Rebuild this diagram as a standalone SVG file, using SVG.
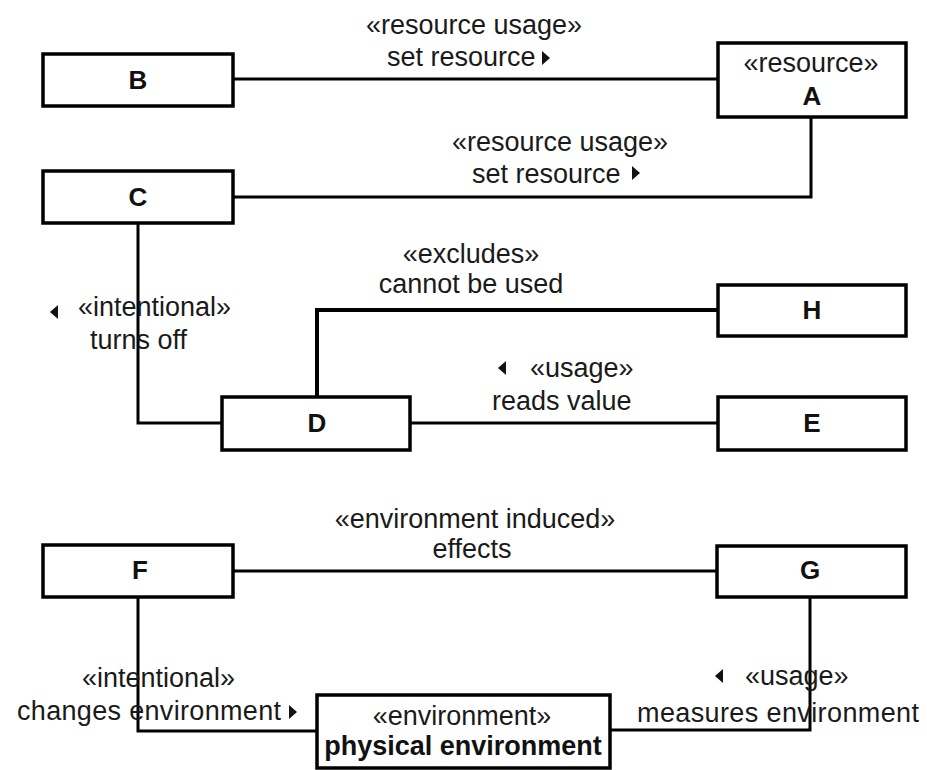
<svg xmlns="http://www.w3.org/2000/svg" width="927" height="770" viewBox="0 0 927 770">
  <style>
    .node rect { fill: #ffffff; stroke: #000000; stroke-width: 3.5; }
    .name { font-family: "Liberation Sans", Arial, sans-serif; font-size: 26px; font-weight: bold; fill: #111111; text-anchor: middle; }
    .stereo { font-family: "Liberation Sans", Arial, sans-serif; font-size: 27px; fill: #1a1a1a; text-anchor: middle; }
    .lbl { font-family: "Liberation Sans", Arial, sans-serif; font-size: 27px; fill: #1a1a1a; }
    .mid { text-anchor: middle; }
    .wire { fill: none; stroke: #000000; stroke-width: 3; }
    .wire.heavy { stroke-width: 4; }
    .dir { fill: #111111; }
  </style>
  <rect width="927" height="770" fill="#ffffff"/>

  <!-- connectors -->
  <g id="connectors">
    <path class="wire" d="M233,79 H718"/>
    <path class="wire" d="M233,197 H811 V117"/>
    <path class="wire" d="M138,223 V423 H222"/>
    <path class="wire heavy" d="M718,310 H317 V397"/>
    <path class="wire" d="M410,423 H718"/>
    <path class="wire" d="M233,571 H717"/>
    <path class="wire" d="M138,597 V731 H317"/>
    <path class="wire" d="M810,597 V730 H610"/>
  </g>

  <!-- connector labels -->
  <g id="labels">
    <text class="lbl mid" x="474" y="34">«resource usage»</text>
    <text class="lbl" x="387" y="66">set resource</text>
    <polygon class="dir" points="542,51 550,58 542,65"/>

    <text class="lbl mid" x="560" y="151">«resource usage»</text>
    <text class="lbl" x="472" y="183">set resource</text>
    <polygon class="dir" points="632,166 640,173 632,180"/>

    <polygon class="dir" points="58,305 50,312 58,319"/>
    <text class="lbl" x="78" y="316">«intentional»</text>
    <text class="lbl" x="90" y="349">turns off</text>

    <text class="lbl mid" x="471" y="263">«excludes»</text>
    <text class="lbl mid" x="471" y="293">cannot be used</text>

    <polygon class="dir" points="506,361 498,368 506,375"/>
    <text class="lbl" x="530" y="377">«usage»</text>
    <text class="lbl" x="492" y="410">reads value</text>

    <text class="lbl mid" x="475" y="528">«environment induced»</text>
    <text class="lbl mid" x="472" y="558">effects</text>

    <text class="lbl" x="82" y="687">«intentional»</text>
    <text class="lbl" x="17" y="720" textLength="264">changes environment</text>
    <polygon class="dir" points="289,705 297,712 289,719"/>

    <polygon class="dir" points="723,669 715,676 723,683"/>
    <text class="lbl" x="745" y="685">«usage»</text>
    <text class="lbl" x="637" y="722" textLength="282">measures environment</text>
  </g>

  <!-- nodes -->
  <g id="node-A" class="node">
    <rect x="718" y="43" width="188" height="74"/>
    <text class="stereo" x="811" y="72">«resource»</text>
    <text class="name" x="812" y="105">A</text>
  </g>
  <g id="node-B" class="node">
    <rect x="43" y="54" width="190" height="52"/>
    <text class="name" x="138" y="89">B</text>
  </g>
  <g id="node-C" class="node">
    <rect x="43" y="171" width="190" height="52"/>
    <text class="name" x="138" y="206">C</text>
  </g>
  <g id="node-D" class="node">
    <rect x="222" y="397" width="188" height="53"/>
    <text class="name" x="317" y="432">D</text>
  </g>
  <g id="node-H" class="node">
    <rect x="718" y="285" width="188" height="51"/>
    <text class="name" x="812" y="319">H</text>
  </g>
  <g id="node-E" class="node">
    <rect x="718" y="397" width="188" height="53"/>
    <text class="name" x="812" y="432">E</text>
  </g>
  <g id="node-F" class="node">
    <rect x="43" y="545" width="190" height="52"/>
    <text class="name" x="140" y="579">F</text>
  </g>
  <g id="node-G" class="node">
    <rect x="717" y="546" width="189" height="51"/>
    <text class="name" x="810" y="579">G</text>
  </g>
  <g id="node-physical-environment" class="node">
    <rect x="317" y="695" width="293" height="73"/>
    <text class="stereo" x="462" y="725">«environment»</text>
    <text class="name" x="463" y="755" style="font-size:27px">physical environment</text>
  </g>
</svg>
